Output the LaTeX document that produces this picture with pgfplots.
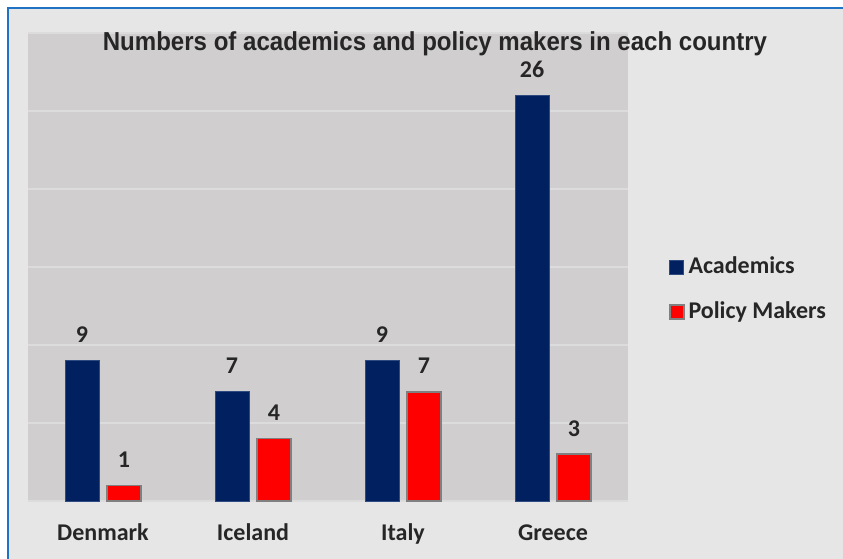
\documentclass[border=0pt]{standalone}
\usepackage{pgfplots}
\pgfplotsset{compat=1.18}
\usepackage{fontspec}
\setmainfont{Carlito}
\newfontfamily\titlefont[FakeStretch=0.925]{Liberation Sans}
\definecolor{outerbg}{HTML}{E6E6E6}
\definecolor{plotbg}{HTML}{D0CECE}
\definecolor{gridc}{HTML}{DDDCDC}
\definecolor{navy}{HTML}{002060}
\definecolor{navyedge}{HTML}{2F4A80}
\definecolor{redbar}{HTML}{FF0000}
\definecolor{rededge}{HTML}{808080}
\definecolor{txt}{HTML}{262626}
\definecolor{border}{HTML}{1F72C4}
\pgfplotsset{sqlegend/.style={legend image code/.code={\draw[##1] (0pt,-7pt) rectangle (14pt,7pt);}}}
\begin{document}
\begin{tikzpicture}[x=1pt,y=1pt]
\useasboundingbox (0,0) rectangle (843,559);
\fill[white] (0,0) rectangle (843,559);
\fill[outerbg] (7.5,0) rectangle (843,550.5);
\draw[border, line width=2pt] (7.5,0) -- (7.5,550.5) -- (843,550.5);
\begin{axis}[
  at={(28pt,58pt)}, anchor=south west,
  scale only axis, width=600pt, height=468pt,
  ybar=8pt, bar width=34pt,
  xmin=-0.5, xmax=3.5, ymin=0, ymax=30,
  axis background/.style={fill=plotbg},
  axis line style={draw=none},
  ytick={0,5,...,30}, yticklabels={},
  ymajorgrids, grid style={gridc, line width=1.2pt},
  major tick length=0pt,
  xtick={0,1,2,3},
  xticklabels={Denmark,Iceland,Italy,Greece},
  xticklabel style={anchor=base, yshift=-40pt, font=\fontsize{24pt}{28pt}\selectfont\bfseries, text=txt},
  nodes near coords,
  every node near coord/.append style={anchor=base, yshift=18pt, font=\fontsize{24pt}{28pt}\selectfont\bfseries, text=txt, /pgf/number format/assume math mode=true},
  legend style={at={(1.068,0.526)}, anchor=north west, draw=none, fill=none, inner sep=0pt,
    font=\fontsize{24pt}{28pt}\selectfont\bfseries, text=txt,
    nodes={inner sep=1pt, text height=17pt, text depth=5pt},
    row sep=21pt, column sep=3pt},
  legend cell align=left,
  clip=false,
]
\addplot[fill=navy, draw=navyedge, line width=0.8pt, sqlegend]
  coordinates {(0,9) (1,7) (2,9) (3,26)};
\addlegendentry{Academics}
\addplot[fill=redbar, draw=rededge, line width=1.5pt, sqlegend]
  coordinates {(0,1) (1,4) (2,7) (3,3)};
\addlegendentry{Policy Makers}
\end{axis}
\node[anchor=base, text=txt, font=\titlefont\fontsize{26pt}{30pt}\selectfont\bfseries, inner sep=0pt] at (435,508) {Numbers of academics and policy makers in each country};
\end{tikzpicture}
\end{document}
